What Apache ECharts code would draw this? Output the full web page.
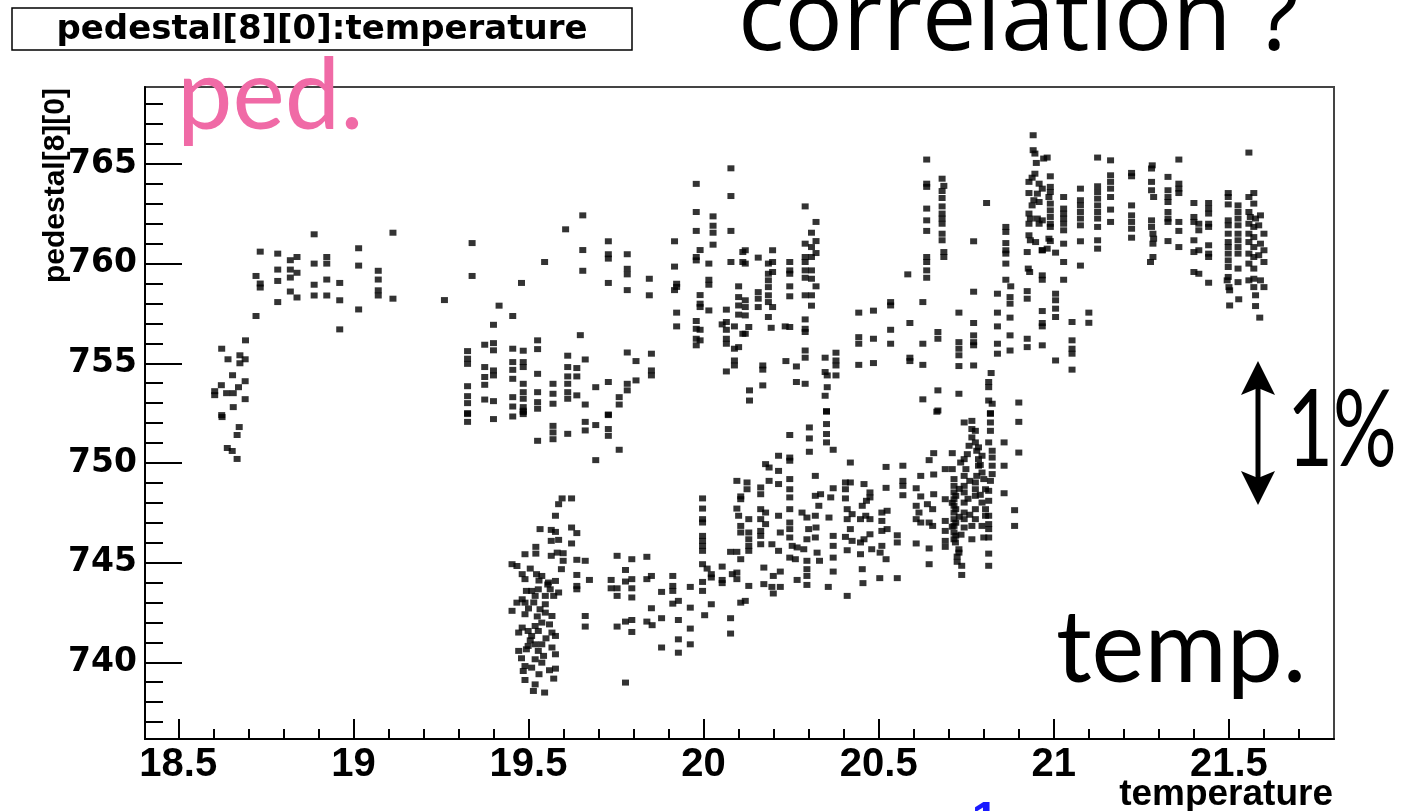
<!DOCTYPE html>
<html>
<head>
<meta charset="utf-8">
<script src="https://cdn.jsdelivr.net/npm/echarts@6/dist/echarts.min.js"></script>
<style>
html,body{margin:0;padding:0;background:#fff;}
#chart{width:1403px;height:811px;}
</style>
</head>
<body>
<div id="chart"></div>
<script>
// ---- tick definitions ----
const xMajorTicks = [18.5, 19, 19.5, 20, 20.5, 21, 21.5];
const xMinorTicks = [18.6,18.7,18.8,18.9,19.1,19.2,19.3,19.4,19.6,19.7,19.8,19.9,20.1,20.2,20.3,20.4,20.6,20.7,20.8,20.9,21.1,21.2,21.3,21.4,21.6,21.7];
const yMajorTicks = [740, 745, 750, 755, 760, 765];
const yMinorTicks = [737,738,739,741,742,743,744,746,747,748,749,751,752,753,754,756,757,758,759,761,762,763,764,766,767,768];

// ---- data: [temperature, pedestal[8][0]] ----
const clusterLowTemp = [
[18.624,755.73],[18.642,755.2],[18.676,755.4],[18.676,755.0],[18.691,755.2],[18.692,756.15],[18.655,754.4],[18.623,753.9],[18.604,753.6],[18.604,753.4],[18.638,753.5],[18.657,753.5],[18.672,753.8],[18.691,754.1],[18.691,753.2],[18.657,752.8],[18.624,752.4],[18.625,752.3],[18.674,751.8],[18.668,751.4],[18.640,750.75],[18.654,750.6],[18.668,750.2]
];
const clusterPlateau = [
[18.734,760.6],[18.722,759.38],[18.734,759.0],[18.734,758.8],[18.722,757.37],[18.784,760.5],[18.784,759.7],[18.784,759.13],[18.784,758.07],[18.820,760.17],[18.839,760.33],[18.820,759.7],[18.839,759.54],[18.820,759.3],[18.820,758.6],[18.839,758.3],[18.888,761.47],[18.888,760.0],[18.888,758.94],[18.888,758.4],[18.924,760.33],[18.924,760.0],[18.924,759.2],[18.924,758.4],[18.961,759.03],[18.961,758.16],[18.961,756.7],[19.015,760.77],[19.015,759.9],[19.015,757.7],[19.071,759.64],[19.071,759.2],[19.071,758.66],[19.071,758.4],[19.113,761.55],[19.113,758.24],[19.260,758.17]
];
const clusterMidUpper = [
[19.339,761.03],[19.339,759.38],[19.480,759.03],[19.546,760.08],[19.416,757.89],[19.455,757.37],[19.400,756.93],[19.606,761.72],[19.655,762.42],[19.655,760.68],[19.655,759.64],[19.728,761.12],[19.728,760.47],[19.728,760.25],[19.728,759.03],[19.782,760.47],[19.782,759.74],[19.782,759.46],[19.782,758.67],[19.845,759.24],[19.845,758.41],[19.917,761.12],[19.917,759.85],[19.923,758.99],[19.923,758.83],[19.917,758.67],[19.923,757.54],[19.923,756.85],
[19.979,764.0],[19.979,762.59],[19.979,761.64],[19.979,760.33],[19.979,760.16],[19.990,760.68],[20.027,762.37],[20.027,761.9],[20.027,761.55],[20.027,760.95],[20.015,760.0],[20.015,759.19],[20.015,758.94],[20.078,764.78],[20.078,763.39],[20.078,761.64],[20.078,760.08],[19.990,758.42],[19.990,757.99],[19.990,757.82],[20.015,757.65],[19.979,757.12],[19.979,756.73],[19.990,756.68],[19.979,756.23],[19.979,755.9],[19.990,756.15],[20.065,757.69],[20.065,757.07],[20.053,756.95],[20.065,756.68],[20.088,756.85],[20.065,756.23],[20.065,755.98],[20.088,755.73],[20.100,755.81],[20.088,755.14],[20.088,754.89],[20.065,754.59],[20.100,758.86],[20.100,758.32],[20.100,757.9],[20.100,757.44],[20.112,756.48],[20.112,760.58],[20.112,760.08]
];
const clusterMidBand = [
[19.326,755.61],[19.326,755.23],[19.326,754.97],[19.326,753.85],[19.326,753.35],[19.326,753.0],[19.326,752.5],[19.375,755.93],[19.400,756.01],[19.400,755.65],[19.375,754.81],[19.375,754.31],[19.375,753.92],[19.400,754.64],[19.400,754.39],[19.375,753.18],[19.400,753.1],[19.455,755.73],[19.485,755.63],[19.455,755.06],[19.455,754.67],[19.485,755.06],[19.485,754.81],[19.455,754.22],[19.485,753.97],[19.455,753.3],[19.485,753.55],[19.485,753.22],[19.455,752.83],[19.485,752.8],[19.485,752.55],[19.526,756.15],[19.526,755.71],[19.526,754.47],[19.526,753.55],[19.526,753.05],[19.526,752.72],[19.570,753.97],[19.570,753.47],[19.570,752.97],[19.612,755.38],[19.612,754.81],[19.612,754.34],[19.612,753.97],[19.612,753.55],[19.612,753.22],[19.638,754.76],[19.638,754.34],[19.638,753.39],[19.648,756.41],[19.662,755.19],[19.662,752.93],[19.692,753.8],[19.728,754.06],[19.728,752.43],[19.782,755.54],[19.807,755.11],[19.782,753.97],[19.807,754.14],[19.782,753.64],[19.759,753.3],[19.759,752.93],[19.851,755.48],[19.851,754.64],[19.851,754.39],
[19.326,752.45],[19.326,752.06],[19.400,752.2],[19.455,752.33],[19.485,752.62],[19.485,752.45],[19.526,751.11],[19.570,751.86],[19.570,751.53],[19.570,751.19],[19.612,751.46],[19.662,752.06],[19.662,751.63],[19.692,751.9],[19.728,752.4],[19.728,751.7],[19.728,751.36],[19.759,750.66],[19.692,750.14]
];
const clusterDip = [
[19.596,748.22],[19.623,748.22],[19.586,747.93],[19.577,747.35],[19.533,746.68],[19.565,746.64],[19.577,746.54],[19.623,746.76],[19.638,746.48],[19.565,746.09],[19.586,746.14],[19.521,745.79],[19.521,745.45],[19.490,745.42],[19.565,745.34],[19.582,745.5],[19.599,745.47],[19.623,745.96],[19.599,745.09],[19.594,744.67],[19.638,745.14],[19.662,745.09],[19.638,744.38],[19.674,744.13],[19.638,743.83],[19.638,743.66],
[19.453,744.92],[19.467,744.83],[19.482,744.42],[19.490,744.17],[19.523,744.42],[19.538,744.33],[19.557,744.0],[19.577,744.08],[19.562,743.66],[19.586,743.5],[19.528,743.66],[19.509,743.58],[19.494,743.58],[19.482,743.16],[19.467,742.99],[19.490,742.99],[19.519,743.33],[19.548,743.33],[19.572,743.33],[19.548,742.91],[19.533,742.66],[19.453,742.58],[19.490,742.41],[19.548,742.49],[19.567,742.32],[19.538,741.99],[19.519,741.82],[19.482,741.74],[19.472,741.49],[19.499,741.57],[19.528,741.57],[19.567,741.49],[19.577,741.32],[19.509,741.32],[19.499,740.82],[19.519,740.9],[19.538,740.9],[19.472,740.57],[19.494,740.65],[19.528,740.57],[19.567,740.74],[19.577,740.4],[19.543,740.32],[19.519,740.15],[19.538,739.98],[19.490,739.81],[19.509,739.73],[19.485,739.56],[19.577,739.68],[19.490,739.11],[19.519,738.89],[19.572,739.18],[19.514,738.56],[19.546,738.48],[19.662,742.32],[19.662,741.79],
[19.505,744.7],[19.530,744.1],[19.555,743.9],[19.500,742.7],[19.525,742.3],[19.560,741.9],[19.505,741.1],[19.550,741.2],[19.530,739.4],[19.560,739.6],[19.480,740.2],[19.515,743.0]
];
const clusterRise = [
[19.753,745.34],[19.795,745.17],[19.838,745.29],[19.777,744.63],[19.736,744.13],[19.736,743.71],[19.753,743.71],[19.777,744.05],[19.795,744.17],[19.795,743.71],[19.753,743.33],[19.795,743.25],[19.838,744.17],[19.851,744.33],[19.880,743.53],[19.912,744.33],[19.912,743.83],[19.912,743.58],[19.962,743.78],[19.851,742.71],[19.838,742.04],[19.853,741.86],[19.880,742.21],[19.777,742.04],[19.795,742.12],[19.753,741.79],[19.795,741.52],[19.912,742.94],[19.928,743.08],[19.962,742.74],[19.928,742.12],[19.962,741.69],[19.880,740.74],[19.928,741.15],[19.962,740.9],[19.928,740.48],[19.777,738.98],
[19.997,748.22],[19.997,747.71],[19.997,747.18],[19.997,747.01],[19.997,746.34],[19.997,746.09],[19.997,745.84],[19.997,745.59],[19.997,744.92],[20.010,744.7],[20.022,744.42],[20.022,744.25],[20.053,744.8],[20.053,744.13],[20.053,743.97],[19.997,744.03],[19.997,743.58],[20.022,742.91],[20.003,742.36],[20.077,742.21],[20.077,741.44],[20.106,742.99],[20.095,749.1],[20.106,748.32],[20.106,748.18],[20.095,747.71],[20.100,747.35],[20.106,746.84],[20.106,746.51],[20.077,745.54],[20.095,745.54],[20.106,745.17],[20.082,744.42],[20.095,744.5],[20.095,744.17]
];
const clusterBand20 = [
[20.124,749.02],[20.124,748.68],[20.129,747.18],[20.129,746.51],[20.129,746.17],[20.129,745.84],[20.129,745.59],[20.129,743.83],[20.119,743.08],[20.163,748.77],[20.163,748.43],[20.163,747.68],[20.163,747.18],[20.177,747.51],[20.177,746.93],[20.163,746.59],[20.163,746.34],[20.163,745.92],[20.187,749.1],[20.177,749.94],[20.187,749.77],[20.214,750.36],[20.214,749.6],[20.214,748.94],[20.214,747.35],[20.219,746.51],[20.195,745.92],[20.214,745.59],[20.172,744.75],[20.199,744.33],[20.219,744.55],[20.172,743.92],[20.195,743.78],[20.219,743.78],[20.199,743.45],
[20.246,751.4],[20.246,750.27],[20.246,750.11],[20.246,749.19],[20.246,748.68],[20.246,748.27],[20.246,747.68],[20.246,747.01],[20.246,746.68],[20.246,746.26],[20.253,745.84],[20.246,745.25],[20.267,745.76],[20.262,745.17],[20.286,745.67],[20.295,745.09],[20.267,744.13],[20.295,744.67],[20.295,744.33],[20.295,743.88],[20.281,747.51],[20.295,747.26],[20.300,746.68],[20.295,746.17],[20.302,751.78],[20.302,751.23],[20.302,750.56],[20.319,749.35],[20.319,748.35],[20.334,748.43],[20.329,747.85],[20.319,747.35],[20.321,746.76],[20.319,746.26],[20.324,745.5],[20.331,745.09],[20.351,752.57],[20.351,751.95],[20.351,751.45],[20.351,751.03],[20.370,750.66],[20.370,748.73],[20.363,748.27],[20.358,747.26],[20.370,746.34],[20.370,745.84],[20.370,745.25],[20.370,744.55],[20.356,743.78],
[20.405,749.02],[20.419,749.02],[20.405,748.68],[20.419,750.02],[20.405,748.22],[20.410,747.68],[20.424,747.43],[20.410,747.18],[20.405,746.29],[20.424,746.09],[20.410,745.62],[20.419,746.68],[20.448,745.42],[20.458,748.94],[20.453,747.85],[20.465,748.1],[20.475,748.52],[20.475,748.27],[20.448,747.18],[20.463,747.35],[20.475,747.18],[20.458,746.17],[20.448,746.01],[20.475,746.42],[20.480,745.67],[20.453,744.67],[20.455,743.97],[20.410,743.33],
[20.509,747.51],[20.509,747.09],[20.524,747.6],[20.509,746.59],[20.524,746.68],[20.509,745.84],[20.504,745.5],[20.521,745.17],[20.521,749.8],[20.521,748.75],[20.553,746.37],[20.553,746.01],[20.503,744.22],[20.553,744.22],
[20.569,749.86],[20.569,749.1],[20.569,748.85],[20.569,748.38],[20.607,748.73],[20.620,749.35],[20.620,748.32],[20.607,747.85],[20.615,747.51],[20.607,747.18],[20.620,747.01],[20.639,747.93],[20.644,747.01],[20.654,747.68],[20.654,746.84],[20.657,748.43],[20.657,749.42],[20.657,750.49],[20.644,750.14],[20.607,745.96],[20.644,745.71],[20.644,744.92],[20.666,752.57]
];
const clusterDense = [
[20.690,749.69],[20.710,750.49],[20.710,749.69],[20.690,748.18],[20.690,747.09],[20.690,746.59],[20.690,746.09],[20.690,745.79],[20.715,749.19],[20.715,748.85],[20.715,748.52],[20.715,748.18],[20.715,747.85],[20.715,747.51],[20.715,747.18],[20.715,746.84],[20.715,746.51],[20.715,746.17],[20.719,746.01],[20.729,745.67],[20.729,745.5],[20.724,745.04],[20.737,744.84],[20.737,744.38],[20.720,748.35],[20.720,747.68],[20.720,747.0],[20.720,746.35],[20.724,745.3],[20.710,748.0],[20.710,746.8],
[20.734,750.02],[20.744,750.19],[20.744,749.35],[20.749,749.69],[20.744,748.85],[20.744,748.52],[20.744,748.01],[20.744,747.51],[20.744,747.18],[20.744,746.76],[20.753,750.44],[20.758,750.86],[20.766,751.28],[20.766,751.7],[20.744,752.03],[20.766,752.11],[20.776,751.61],[20.776,751.03],[20.780,750.61],[20.785,750.19],[20.785,749.86],[20.780,749.35],[20.776,749.02],[20.776,748.68],[20.776,748.35],[20.776,747.68],[20.776,747.18],[20.766,746.84],[20.766,746.17],[20.785,750.78],[20.795,750.36],[20.795,749.52],[20.800,749.19],[20.805,748.68],[20.795,748.01],[20.805,747.68],[20.805,747.35],[20.795,746.84],[20.819,752.5],[20.819,752.03],[20.819,751.61],[20.814,751.03],[20.824,750.61],[20.824,750.27],[20.824,749.86],[20.824,749.44],[20.819,749.1],[20.814,748.6],[20.814,748.1],[20.814,747.35],[20.814,746.93],[20.814,746.68],[20.800,746.26],[20.814,746.26],[20.814,745.45],[20.814,744.84],[20.858,751.03],[20.858,749.86],[20.858,748.48],[20.888,747.63],[20.888,746.84],[20.900,752.06],[20.900,750.52],
[20.730,748.7],[20.730,747.3],[20.735,746.4],[20.755,748.2],[20.760,747.4],[20.790,749.9],[20.790,748.4],[20.760,749.1]
];
const clusterUpper20 = [
[20.119,760.67],[20.119,760.0],[20.156,760.3],[20.197,760.67],[20.197,760.08],[20.185,760.0],[20.185,759.49],[20.185,759.16],[20.185,758.82],[20.197,759.58],[20.156,758.57],[20.156,758.24],[20.156,757.82],[20.185,758.41],[20.185,758.07],[20.197,757.82],[20.185,757.32],[20.119,758.16],[20.119,757.82],[20.119,757.4],[20.129,756.82],[20.119,756.48],[20.193,756.78],[20.246,760.08],[20.246,759.66],[20.246,759.49],[20.246,758.86],[20.246,758.36],[20.233,756.85],[20.246,756.82],
[20.290,762.87],[20.321,762.09],[20.308,761.55],[20.290,761.0],[20.308,760.83],[20.321,761.13],[20.321,760.53],[20.290,760.33],[20.308,760.33],[20.290,760.08],[20.290,759.66],[20.308,759.66],[20.290,759.29],[20.308,759.24],[20.321,758.86],[20.290,758.41],[20.308,758.41],[20.308,757.89],[20.290,757.2],[20.290,756.73],[20.290,756.57],[20.290,755.64],[20.290,755.28],
[20.169,754.89],[20.169,754.68],[20.169,753.89],[20.131,753.64],[20.131,753.13],[20.235,755.11],[20.265,754.84],[20.265,754.06],[20.290,753.97],[20.347,755.28],[20.378,755.53],[20.378,755.14],[20.378,754.89],[20.347,754.56],[20.353,754.39],[20.378,754.39],[20.353,753.8],[20.347,753.37],[20.351,752.6],
[20.443,757.54],[20.443,756.31],[20.443,755.98],[20.443,754.92],[20.485,757.64],[20.485,756.23],[20.485,755.01],[20.534,758.07],[20.534,757.9],[20.534,756.68],[20.534,755.98],[20.583,759.46],[20.589,757.02],[20.589,755.28],[20.589,755.11],[20.626,758.07],[20.626,755.98],[20.626,754.92],[20.626,753.19],[20.669,756.57],[20.669,756.23],[20.669,753.64],[20.669,752.63],
[20.637,765.22],[20.637,764.01],[20.637,763.85],[20.637,762.76],[20.637,762.17],[20.637,761.64],[20.637,760.33],[20.637,760.08],[20.637,759.66],[20.637,759.29],[20.681,764.26],[20.686,763.9],[20.681,763.64],[20.681,763.29],[20.681,762.87],[20.681,762.51],[20.681,762.26],[20.681,762.0],[20.681,761.5],[20.681,761.17],[20.686,760.58],[20.686,760.33],
[20.729,757.54],[20.729,756.06],[20.729,755.73],[20.729,755.4],[20.729,754.86],[20.729,753.47],[20.771,761.12],[20.771,758.59],[20.771,757.02],[20.771,756.4],[20.771,756.06],[20.771,755.9],[20.771,754.89],[20.808,763.04],[20.821,754.51],[20.814,754.06],[20.814,753.8],[20.814,753.13],[20.824,752.97],[20.819,752.46],[20.839,758.49],[20.839,757.54],[20.839,756.85],[20.839,755.98],[20.839,755.48],[20.863,761.84],[20.863,761.59],[20.863,761.03],[20.863,760.67],[20.863,760.5],[20.863,760.0],[20.863,759.19],[20.877,758.86],[20.875,758.32],[20.875,757.99],[20.875,757.29],[20.875,756.4],[20.875,755.64],[20.900,753.03],
[20.924,756.23],[20.924,755.81],[20.924,760.58],[20.927,759.75],[20.931,759.58],[20.924,758.62],[20.924,758.24],[20.967,759.41],[20.967,759.19],[20.967,757.62],[20.967,757.02],[20.967,756.85],[20.967,755.9],[20.967,760.67],
[20.941,766.44],[20.941,765.69],[20.946,765.52],[20.950,765.05],[20.971,765.27],[20.946,764.51],[20.938,764.31],[20.929,764.1],[20.958,764.01],[20.967,763.76],[20.929,763.54],[20.953,763.51],[20.943,763.18],[20.958,763.09],[20.938,762.92],[20.929,762.51],[20.933,762.26],[20.929,762.0],[20.953,762.26],[20.967,762.17],[20.958,762.0],[20.929,761.42],[20.933,761.17],[20.948,761.08],[20.967,760.67]
];
const clusterLate = [
[20.981,765.32],[20.990,764.38],[20.990,763.85],[20.990,763.59],[20.986,763.34],[20.990,763.01],[20.990,762.67],[20.990,762.34],[20.990,762.0],[20.990,761.84],[20.986,761.25],[20.990,761.13],[20.981,760.75],[21.005,760.55],
[21.028,763.34],[21.028,762.76],[21.028,762.51],[21.028,762.26],[21.028,762.0],[21.028,761.67],[21.028,761.0],[21.028,760.08],[21.028,759.19],
[21.005,758.49],[21.005,758.16],[21.005,757.74],[21.005,757.32],[21.005,755.14],[21.052,757.07],[21.052,756.15],[21.052,755.73],[21.052,755.48],[21.052,754.68],[21.100,757.54],[21.100,757.03],
[21.076,763.76],[21.076,763.18],[21.076,762.92],[21.076,762.59],[21.076,762.26],[21.076,761.92],[21.076,761.12],[21.076,759.9],
[21.125,765.32],[21.125,763.88],[21.125,763.59],[21.125,763.26],[21.125,762.92],[21.125,762.59],[21.125,762.26],[21.125,761.84],[21.125,761.17],[21.125,760.75],
[21.162,765.18],[21.162,764.43],[21.162,764.1],[21.162,763.76],[21.162,763.34],[21.162,762.71],[21.162,762.09],
[21.222,764.55],[21.222,764.38],[21.222,762.92],[21.222,762.42],[21.222,762.09],[21.222,761.75],[21.222,761.3],
[21.281,764.93],[21.279,764.77],[21.279,764.1],[21.279,763.68],[21.285,763.34],[21.279,762.17],[21.279,761.84],[21.283,761.5],[21.285,761.25],[21.283,761.0],[21.283,760.33],[21.276,760.08],
[21.326,764.35],[21.326,763.68],[21.326,763.34],[21.326,763.09],[21.326,762.59],[21.326,762.26],[21.326,762.09],[21.326,761.13],
[21.357,765.22],[21.357,764.01],[21.357,763.76],[21.357,763.54],[21.357,762.09],[21.357,761.64],[21.357,760.83],
[21.400,763.04],[21.400,762.34],[21.400,762.09],[21.414,762.0],[21.414,761.67],[21.400,761.17],[21.414,760.67],[21.400,760.58],[21.400,759.58],[21.414,759.49],
[21.442,763.04],[21.442,762.76],[21.442,762.51],[21.442,762.0],[21.442,761.84],[21.442,760.92],[21.442,760.5],[21.442,760.33],[21.442,759.04],
[21.498,763.54],[21.498,763.34],[21.498,762.97],[21.498,762.17],[21.498,761.92],[21.498,761.5],[21.498,761.08],[21.498,760.83],[21.498,760.5],[21.498,760.16],[21.498,759.83],[21.498,759.33],[21.495,759.16],[21.500,758.82],[21.502,758.66],[21.502,757.9],
[21.526,762.92],[21.526,762.59],[21.526,762.26],[21.526,761.92],[21.526,761.5],[21.526,761.17],[21.526,760.83],[21.526,760.5],[21.526,759.75],[21.526,759.07],[21.528,758.21],
[21.557,765.57],[21.557,763.34],[21.571,763.54],[21.571,763.01],[21.557,762.59],[21.561,762.34],[21.576,762.26],[21.590,762.42],[21.557,762.0],[21.571,761.84],[21.585,761.92],[21.557,761.5],[21.571,761.33],[21.600,761.5],[21.557,761.08],[21.571,760.83],[21.590,761.0],[21.600,760.67],[21.557,760.5],[21.571,760.33],[21.585,760.42],[21.600,760.08],[21.557,760.0],[21.571,759.75],[21.557,759.16],[21.571,759.24],[21.590,759.16],[21.600,758.82],[21.571,758.82],[21.576,758.41],[21.576,757.87],[21.588,757.29]
];

const allPoints = [].concat(clusterLowTemp, clusterPlateau, clusterMidUpper, clusterMidBand,
  clusterDip, clusterRise, clusterBand20, clusterDense, clusterUpper20, clusterLate);

// ---- chart ----
const chart = echarts.init(document.getElementById('chart'), null, {renderer: 'canvas'});
const GRID = {left: 145, top: 87, width: 1189, height: 652};
const X_MIN = 18.405, X_MAX = 21.8, Y_MIN = 736.15, Y_MAX = 768.86;
const ROOT_BOLD = 'Liberation Sans';

const option = {
  animation: false,
  backgroundColor: '#ffffff',
  grid: Object.assign({show: true, borderColor: '#444', borderWidth: 2, backgroundColor: 'transparent', containLabel: false}, GRID),
  xAxis: [
    {
      type: 'value', min: X_MIN, max: X_MAX, position: 'bottom',
      splitLine: {show: false},
      axisLine: {show: true, onZero: false, lineStyle: {color: '#000', width: 2}},
      axisTick: {show: true, inside: true, length: 20, customValues: xMajorTicks, lineStyle: {color: '#000', width: 2}},
      axisLabel: {show: true, customValues: xMajorTicks, margin: 6, fontFamily: ROOT_BOLD, fontWeight: 'bold', fontSize: 40, color: '#000'}
    },
    {
      type: 'value', min: X_MIN, max: X_MAX, position: 'bottom',
      splitLine: {show: false},
      axisLine: {show: false, onZero: false},
      axisTick: {show: true, inside: true, length: 10, customValues: xMinorTicks, lineStyle: {color: '#000', width: 2}},
      axisLabel: {show: false}
    }
  ],
  yAxis: [
    {
      type: 'value', min: Y_MIN, max: Y_MAX, position: 'left',
      splitLine: {show: false},
      axisLine: {show: true, onZero: false, lineStyle: {color: '#000', width: 2}},
      axisTick: {show: true, inside: true, length: 37, customValues: yMajorTicks, lineStyle: {color: '#000', width: 2}},
      axisLabel: {show: true, customValues: yMajorTicks, margin: 8, fontFamily: 'DejaVu Sans', fontWeight: 'bold', fontSize: 33, color: '#000'}
    },
    {
      type: 'value', min: Y_MIN, max: Y_MAX, position: 'left',
      splitLine: {show: false},
      axisLine: {show: false, onZero: false},
      axisTick: {show: true, inside: true, length: 18, customValues: yMinorTicks, lineStyle: {color: '#000', width: 2}},
      axisLabel: {show: false}
    }
  ],
  series: [{
    type: 'scatter',
    xAxisIndex: 0, yAxisIndex: 0,
    symbol: 'rect',
    symbolSize: [7, 6],
    itemStyle: {color: '#000'},
    data: allPoints,
    z: 3
  }],
  graphic: [
    // title box
    {type: 'rect', shape: {x: 12, y: 8, width: 620, height: 42}, style: {fill: '#fff', stroke: '#000', lineWidth: 1.5}, z: 10},
    {type: 'text', x: 322, y: 30, style: {text: 'pedestal[8][0]:temperature', font: 'bold 34px "DejaVu Sans"', fill: '#000', align: 'center', verticalAlign: 'middle'}, z: 11},
    // axis titles
    {type: 'text', x: 56, y: 88, rotation: Math.PI / 2, style: {text: 'pedestal[8][0]', font: 'bold 30px "Liberation Sans"', fill: '#000', align: 'right', verticalAlign: 'middle'}, z: 11},
    {type: 'text', x: 1333, y: 795, style: {text: 'temperature', font: 'bold 37px "Liberation Sans"', fill: '#000', align: 'right', verticalAlign: 'middle'}, z: 11},
    // overlay annotations
    {type: 'text', x: 738, y: 22, style: {text: 'correlation ?', font: '97px "Open Sans"', fill: '#000', align: 'left', verticalAlign: 'middle'}, z: 20},
    {type: 'text', x: 177, y: 97, style: {text: 'ped.', font: '99px Lato', fill: '#f06aa6', align: 'left', verticalAlign: 'middle'}, z: 20},
    {type: 'text', x: 1056, y: 650, style: {text: 'temp.', font: '100px Lato', fill: '#000', align: 'left', verticalAlign: 'middle'}, z: 20},
    {type: 'text', x: 1287, y: 432, scaleX: 0.75, style: {text: '1%', font: '106px Lato', fill: '#000', align: 'left', verticalAlign: 'middle'}, z: 20},
    {type: 'text', x: 985, y: 798, style: {text: '1', font: 'bold 48px "Liberation Sans"', fill: '#1a1aff', align: 'center', verticalAlign: 'top'}, z: 20},
    // double arrow
    {type: 'line', shape: {x1: 1258, y1: 380, x2: 1258, y2: 486}, style: {stroke: '#000', lineWidth: 5}, z: 20},
    {type: 'polygon', shape: {points: [[1258, 361], [1275, 395], [1258, 388], [1241, 395]]}, style: {fill: '#000'}, z: 20},
    {type: 'polygon', shape: {points: [[1258, 505], [1275, 471], [1258, 478], [1241, 471]]}, style: {fill: '#000'}, z: 20}
  ]
};
chart.setOption(option);
</script>
</body>
</html>
